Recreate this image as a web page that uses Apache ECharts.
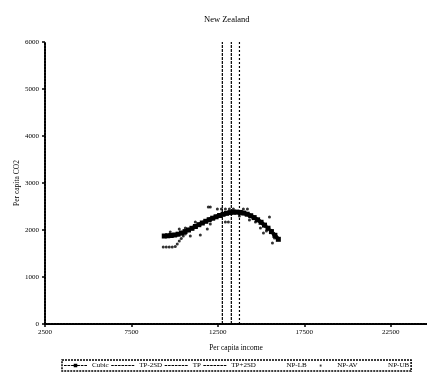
<!DOCTYPE html>
<html>
<head>
<meta charset="utf-8">
<script src="https://cdn.jsdelivr.net/npm/echarts@6/dist/echarts.min.js"></script>
<style>
  html, body { margin: 0; padding: 0; background: #fff; }
  #chart { width: 427px; height: 381px; }
</style>
</head>
<body>
<div id="chart"></div>
<script>
// Fitted cubic: per capita income vs per capita CO2
const cubicIncome = [9400, 9600, 9800, 10000, 10200, 10400, 10600, 10800, 11000, 11200,
  11400, 11600, 11800, 12000, 12200, 12400, 12600, 12800, 13000, 13200,
  13400, 13600, 13800, 14000, 14200, 14400, 14600, 14800, 15000, 15200,
  15400, 15600, 15800, 16000];
const cubicCO2 = [1872, 1877, 1883, 1894, 1911, 1936, 1966, 2000, 2036, 2074,
  2113, 2149, 2185, 2219, 2251, 2281, 2309, 2334, 2355, 2370,
  2379, 2381, 2374, 2360, 2336, 2304, 2264, 2217, 2164, 2104,
  2038, 1966, 1887, 1802];

// Turning point and +/- 2 standard deviations (income)
const tpMinus2SD = 12760;
const tp = 13280;
const tpPlus2SD = 13750;

// Nonparametric average (observations)
const npIncome = [9341, 9514, 9688, 9862, 10036, 10152, 10268, 10384, 10500, 10616,
  11949, 12065, 12471, 12703, 12935, 13167, 13399, 12935, 13109, 13978, 14210,
  15486, 11486, 11891, 12065, 10268, 10906, 15659, 15138,
  11196, 10616, 14674, 14964, 15312, 15775, 9746, 13746, 14326];
const npCO2 = [1638, 1638, 1638, 1638, 1649, 1702, 1766, 1819, 1872, 1915,
  2489, 2489, 2447, 2447, 2447, 2447, 2447, 2170, 2170, 2447, 2447,
  2277, 1894, 2021, 2128, 2021, 1872, 1723, 1936,
  2170, 2043, 2170, 2043, 1979, 1830, 1957, 2298, 2213];

// Axis ticks (x axis runs on past the right edge of the plot)
const xMin = 2500, xMax = 24600, xStep = 5000;
const yMin = 0, yMax = 6000, yStep = 1000;

const font = 'Liberation Serif, Times New Roman, serif';
const axisDash = { color: '#000', width: 2, type: [2, 1] };
// legend glyphs: dashed line, dashed line with square marker, small dot
const dashIcon = 'path://M0,0h3v1h-3zM4,0h3v1h-3zM8,0h3v1h-3zM12,0h3v1h-3zM16,0h3v1h-3zM20,0h3v1h-3zM24,0h3v1h-3z';
const cubicIcon = 'path://M0,2.5h3v1.2h-3zM4,2.5h3v1.2h-3zM8,2.5h3v1.2h-3zM15,2.5h3v1.2h-3zM19,2.5h3v1.2h-3zM23,2.5h3v1.2h-3zM11,1h4v4h-4zM0,0L0,0M26,6L26,6';
const dotIcon = 'path://M0,0L0,0M26,6L26,6M12,2h2v2.2h-2z';

const cubicData = cubicIncome.map((v, i) => [v, cubicCO2[i]]);
const npData = npIncome.map((v, i) => [v, npCO2[i]]);
const vLine = (x) => [[x, yMin], [x, yMax]];

const chart = echarts.init(document.getElementById('chart'), null, { renderer: 'canvas' });
chart.setOption({
  animation: false,
  backgroundColor: '#fff',
  title: {
    text: 'New Zealand',
    left: 199, top: 10,
    textStyle: { fontFamily: font, fontSize: 8.5, fontWeight: 'normal', color: '#000' }
  },
  grid: { left: 45, right: 0, top: 42, bottom: 57 },
  xAxis: {
    type: 'value', min: xMin, max: xMax, interval: xStep,
    name: 'Per capita income', nameLocation: 'middle', nameGap: 20,
    nameTextStyle: { fontFamily: font, fontSize: 7.5, color: '#000' },
    axisLine: { lineStyle: axisDash },
    axisTick: { show: true, length: 3, lineStyle: { color: '#000', width: 1.5 } },
    axisLabel: { fontFamily: font, fontSize: 7, color: '#000', margin: 5, showMaxLabel: false,
      formatter: (v) => String(v) },
    splitLine: { show: false }
  },
  yAxis: {
    type: 'value', min: yMin, max: yMax, interval: yStep,
    name: 'Per capita CO2', nameLocation: 'middle', nameGap: 24, nameMoveOverlap: false,
    nameTextStyle: { fontFamily: font, fontSize: 7.5, color: '#000' },
    axisLine: { lineStyle: axisDash },
    axisTick: { show: true, length: 3, lineStyle: { color: '#000', width: 1.5 } },
    axisLabel: { fontFamily: font, fontSize: 7, color: '#000', margin: 6,
      formatter: (v) => String(v) },
    splitLine: { show: false }
  },
  legend: {
    left: 62, top: 360, width: 400,
    padding: [2, 2],
    itemGap: 2.5, itemWidth: 23, itemHeight: 6,
    borderColor: '#000', borderWidth: 1.5, borderType: [2, 1],
    textStyle: { fontFamily: font, fontSize: 7, color: '#000' },
    data: [
      { name: 'Cubic', icon: cubicIcon, itemStyle: { color: '#000' } },
      { name: 'TP-2SD', icon: dashIcon, itemStyle: { color: '#000' } },
      { name: 'TP', icon: dashIcon, itemStyle: { color: '#000' } },
      { name: 'TP+2SD', icon: dashIcon, itemStyle: { color: '#000' } },
      { name: 'NP-LB', icon: 'none' },
      { name: 'NP-AV', icon: dotIcon, itemStyle: { color: '#000' } },
      { name: 'NP-UB', icon: 'none' }
    ]
  },
  series: [
    {
      name: 'NP-AV', type: 'scatter', data: npData,
      symbol: 'circle', symbolSize: 3,
      itemStyle: { color: '#000' }, z: 2
    },
    {
      name: 'Cubic', type: 'line', data: cubicData,
      symbol: 'rect', symbolSize: 5, showSymbol: true,
      lineStyle: { color: '#000', width: 4, type: [3, 1] },
      itemStyle: { color: '#000' }, z: 3
    },
    {
      name: 'TP-2SD', type: 'line', data: vLine(tpMinus2SD), symbol: 'none',
      lineStyle: { color: '#000', width: 1.2, type: [3, 1] }, itemStyle: { color: '#000' }
    },
    {
      name: 'TP', type: 'line', data: vLine(tp), symbol: 'none',
      lineStyle: { color: '#000', width: 1.2, type: [3, 1] }, itemStyle: { color: '#000' }
    },
    {
      name: 'TP+2SD', type: 'line', data: vLine(tpPlus2SD), symbol: 'none',
      lineStyle: { color: '#000', width: 1.2, type: [2, 2] }, itemStyle: { color: '#000' }
    },
    {
      name: 'NP-LB', type: 'line', data: [], symbol: 'none',
      lineStyle: { opacity: 0 }, itemStyle: { color: '#000' }
    },
    {
      name: 'NP-UB', type: 'line', data: [], symbol: 'none',
      lineStyle: { opacity: 0 }, itemStyle: { color: '#000' }
    }
  ]
});
</script>
</body>
</html>
